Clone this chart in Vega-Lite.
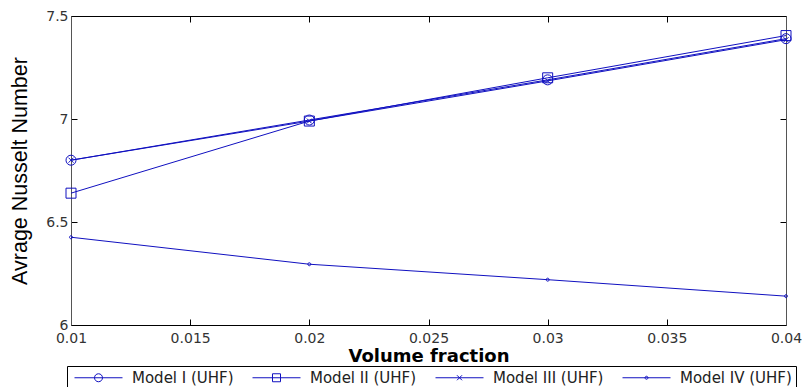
{
  "$schema": "https://vega.github.io/schema/vega-lite/v6.json",
  "width": 715,
  "height": 309,
  "autosize": "none",
  "padding": {"left": 71, "top": 16, "right": 16, "bottom": 62},
  "background": "white",
  "config": {"view": {"stroke": null}, "font": "DejaVu Sans"},
  "data": {"values": [
    {"model": "Model I (UHF)", "fraction": 0.01, "nusselt": 6.80},
    {"model": "Model I (UHF)", "fraction": 0.02, "nusselt": 6.995},
    {"model": "Model I (UHF)", "fraction": 0.03, "nusselt": 7.19},
    {"model": "Model I (UHF)", "fraction": 0.04, "nusselt": 7.39},
    {"model": "Model II (UHF)", "fraction": 0.01, "nusselt": 6.64},
    {"model": "Model II (UHF)", "fraction": 0.02, "nusselt": 6.99},
    {"model": "Model II (UHF)", "fraction": 0.03, "nusselt": 7.20},
    {"model": "Model II (UHF)", "fraction": 0.04, "nusselt": 7.405},
    {"model": "Model III (UHF)", "fraction": 0.01, "nusselt": 6.80},
    {"model": "Model III (UHF)", "fraction": 0.02, "nusselt": 6.99},
    {"model": "Model III (UHF)", "fraction": 0.03, "nusselt": 7.185},
    {"model": "Model III (UHF)", "fraction": 0.04, "nusselt": 7.385},
    {"model": "Model IV (UHF)", "fraction": 0.01, "nusselt": 6.426},
    {"model": "Model IV (UHF)", "fraction": 0.02, "nusselt": 6.295},
    {"model": "Model IV (UHF)", "fraction": 0.03, "nusselt": 6.22},
    {"model": "Model IV (UHF)", "fraction": 0.04, "nusselt": 6.14}
  ]},
  "layer": [
    {
      "mark": {"type": "line", "color": "#1010c0", "strokeWidth": 1},
      "encoding": {
        "x": {"field": "fraction", "type": "quantitative",
          "scale": {"domain": [0.01, 0.04], "nice": false, "zero": false},
          "axis": {"orient": "bottom", "title": "Volume fraction", "values": [0.01, 0.015, 0.02, 0.025, 0.03, 0.035, 0.04],
            "format": "~g", "grid": false, "labelFlush": false, "labelOverlap": false, "labelBound": false,
            "tickSize": -6, "tickColor": "#000", "domainColor": "#000", "labelPadding": 12,
            "labelFont": "DejaVu Sans", "labelFontSize": 14, "labelColor": "#333",
            "titleFont": "DejaVu Sans", "titleFontSize": 18, "titleFontWeight": "bold", "titleColor": "#000", "titlePadding": 2}},
        "y": {"field": "nusselt", "type": "quantitative",
          "scale": {"domain": [6, 7.5], "nice": false, "zero": false},
          "axis": {"orient": "left", "title": "Avrage Nusselt Number", "values": [6, 6.5, 7, 7.5],
            "format": "~g", "grid": false, "labelFlush": false, "labelOverlap": false, "labelBound": false,
            "tickSize": -6, "tickColor": "#000", "domainColor": "#555", "labelPadding": 9,
            "labelFont": "DejaVu Sans", "labelFontSize": 14, "labelColor": "#333",
            "titleFont": "Liberation Sans", "titleFontSize": 21.5, "titleFontWeight": "normal", "titleColor": "#000", "titlePadding": 14}},
        "detail": {"field": "model", "type": "nominal"}
      }
    },
    {
      "mark": {"type": "point", "stroke": "#1010c0", "strokeWidth": 1, "opacity": 1, "size": 100, "filled": false},
      "encoding": {
        "x": {"field": "fraction", "type": "quantitative",
          "axis": {"orient": "top", "title": null, "labels": false, "values": [0.01, 0.015, 0.02, 0.025, 0.03, 0.035, 0.04],
            "grid": false, "tickSize": -6, "tickColor": "#000", "domainColor": "#000"}},
        "y": {"field": "nusselt", "type": "quantitative",
          "axis": {"orient": "right", "title": null, "labels": false, "values": [6, 6.5, 7, 7.5],
            "grid": false, "tickSize": -6, "tickColor": "#000", "domainColor": "#555"}},
        "shape": {"field": "model", "type": "nominal", "legend": null,
          "scale": {"domain": ["Model I (UHF)", "Model II (UHF)", "Model III (UHF)", "Model IV (UHF)"],
            "range": ["circle", "square", "M-0.5,-0.5L0.5,0.5M-0.5,0.5L0.5,-0.5", "M-0.3,0A0.3,0.3 0 1,0 0.3,0A0.3,0.3 0 1,0 -0.3,0"]}}
      }
    },
    {
      "mark": {"type": "point", "stroke": "#1010c0", "strokeWidth": 1, "opacity": 0, "size": 100, "filled": false},
      "encoding": {
        "x": {"field": "fraction", "type": "quantitative", "axis": null},
        "y": {"field": "nusselt", "type": "quantitative", "axis": null},
        "shape": {"field": "model", "type": "nominal",
          "scale": {"domain": ["Model I (UHF)", "Model II (UHF)", "Model III (UHF)", "Model IV (UHF)"],
            "range": [
              "M-4.8,0H4.8M-0.8,0A0.8,0.8 0 1,0 0.8,0A0.8,0.8 0 1,0 -0.8,0",
              "M-4.8,0H4.8M-0.8,-0.8H0.8V0.8H-0.8Z",
              "M-4.8,0H4.8M-0.5,-0.5L0.5,0.5M-0.5,0.5L0.5,-0.5",
              "M-4.8,0H4.8M-0.3,0A0.3,0.3 0 1,0 0.3,0A0.3,0.3 0 1,0 -0.3,0"]},
          "legend": {"title": null, "orient": "none", "legendX": -4, "legendY": 350, "direction": "horizontal", "columns": 4,
            "symbolOpacity": 1, "symbolStrokeColor": "#1010c0", "symbolFillColor": "transparent", "symbolStrokeWidth": 1, "symbolSize": 100,
            "symbolOffset": 20, "labelOffset": 26, "columnPadding": 15,
            "labelFont": "DejaVu Sans", "labelFontSize": 15, "labelColor": "#222",
            "strokeColor": "#000", "fillColor": "white", "padding": 4}}
      }
    }
  ],
  "resolve": {"axis": {"x": "independent", "y": "independent"}, "scale": {"shape": "independent"}}
}
